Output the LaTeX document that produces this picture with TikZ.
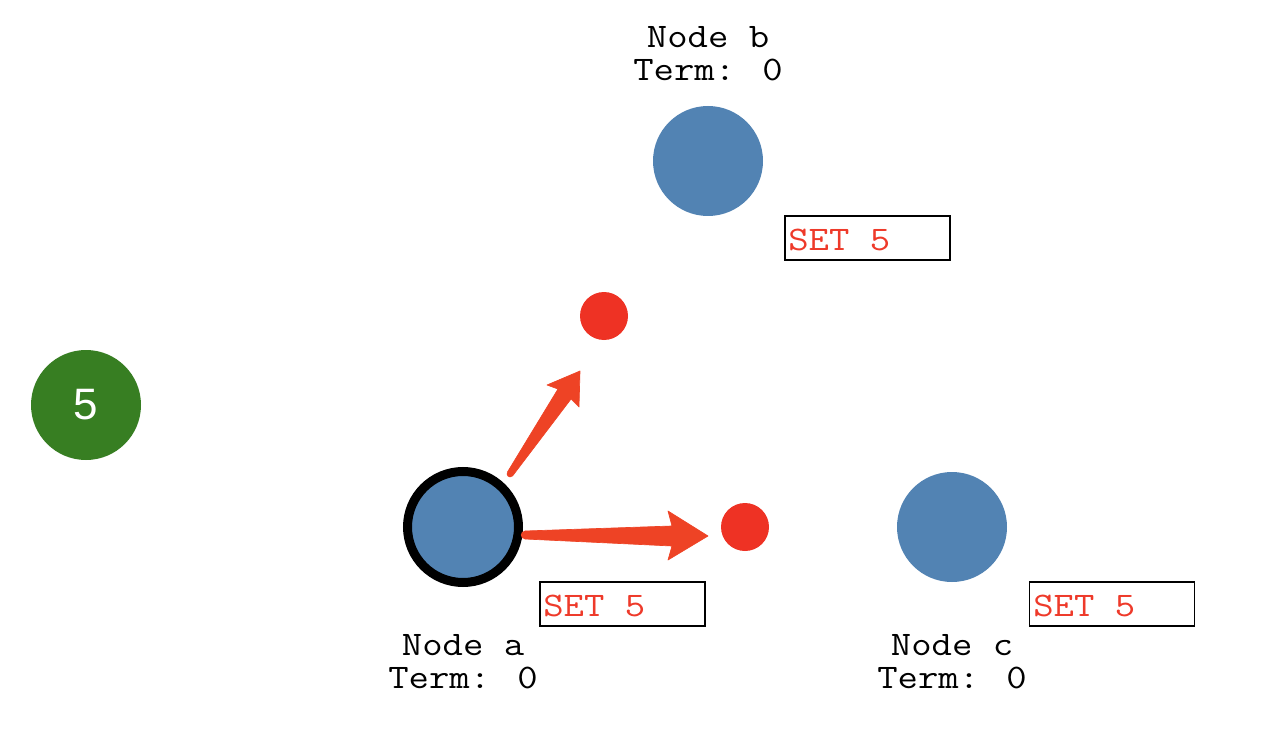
\documentclass[tikz,border=0pt]{standalone}
\usepackage{fontspec}
\newfontfamily\digitfont{Liberation Sans}
\definecolor{nodeblue}{HTML}{5283B3}
\definecolor{dotred}{HTML}{EE3224}
\definecolor{arrowred}{HTML}{EE4325}
\definecolor{textred}{HTML}{EE3A2A}
\definecolor{termgreen}{HTML}{377E22}
\newcommand{\cour}[1]{\scalebox{1.15}[1]{\ttfamily\fontsize{25.8}{25.8}\selectfont #1}}
\begin{document}
\begin{tikzpicture}[x=0.75pt,y=-0.75pt,
  srv/.style={circle,fill=nodeblue,minimum size=82.5pt,inner sep=0pt},
  msg/.style={circle,fill=dotred,minimum size=36pt,inner sep=0pt},
  lbl/.style={anchor=base,inner sep=0pt},
  setbox/.style={draw=black,line width=1.1pt,minimum width=123.75pt,minimum height=33pt,inner sep=0pt},
  settext/.style={text=textred,anchor=base west,inner sep=0pt},
  arr/.style={fill=arrowred,draw=arrowred,line width=0.5pt,line join=round}]
\useasboundingbox (0,0) rectangle (1264,738);
% term
\node[circle,fill=termgreen,minimum size=82.5pt,inner sep=0pt,text=white,font=\digitfont\fontsize{33}{33}\selectfont] (term) at (86,405) {5};
% servers
\node[srv] (b) at (708,161) {};
\node[srv] (c) at (952,527) {};
\node[srv,draw=black,line width=6.75pt,minimum size=83.25pt] (a) at (463,527) {};
% messages
\node[msg] (m1) at (604,316) {};
\node[msg] (m2) at (745,527) {};
% labels
\node[lbl] (bl1) at (708,48) {\cour{Node b}};
\node[lbl] (bl2) at (708,81) {\cour{Term: 0}};
\node[lbl] (al1) at (463,655) {\cour{Node a}};
\node[lbl] (al2) at (463,688) {\cour{Term: 0}};
\node[lbl] (cl1) at (952,655) {\cour{Node c}};
\node[lbl] (cl2) at (952,688) {\cour{Term: 0}};
% set boxes
\node[setbox] (sb) at (867.5,238) {};
\node[setbox] (sa) at (622.5,604) {};
\node[setbox] (sc) at (1112,604) {};
\node[settext] (sbt) at (788,250) {\cour{SET 5}};
\node[settext] (sat) at (543,616) {\cour{SET 5}};
\node[settext] (sct) at (1033,616) {\cour{SET 5}};
% arrows (tapered)
\coordinate (t1) at (510,474);
\coordinate (h1) at (580,371);
\draw[arr] (507.5,472) -- (558,389) -- (547,385) -- (h1) -- (579,407) -- (571,399) -- (512.5,476) -- cycle;
\fill[arrowred] (t1) circle (3.3);
\coordinate (t2) at (525,535);
\coordinate (h2) at (708,536);
\draw[arr] (525,531) -- (672,526) -- (668,511) -- (h2) -- (668,560) -- (672,546) -- (525,539) -- cycle;
\fill[arrowred] (t2) circle (4.2);
\end{tikzpicture}
\end{document}
